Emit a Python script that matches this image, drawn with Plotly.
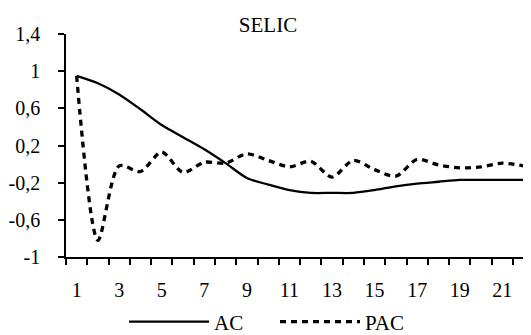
import plotly.graph_objects as go

lags = list(range(1, 23))
ac = [0.95, 0.87, 0.75, 0.59, 0.42, 0.29, 0.16, 0.01, -0.15, -0.22, -0.28, -0.31,
      -0.31, -0.31, -0.28, -0.24, -0.21, -0.19, -0.17, -0.17, -0.17, -0.17]
pac = [0.95, -0.82, -0.02, -0.08, 0.13, -0.09, 0.02, 0.01, 0.11, 0.04, -0.03, 0.03,
       -0.14, 0.04, -0.06, -0.13, 0.05, -0.01, -0.04, -0.03, 0.01, -0.02]
y_ticks = [-1, -0.6, -0.2, 0.2, 0.6, 1, 1.4]
y_labels = ["-1", "-0,6", "-0,2", "0,2", "0,6", "1", "1,4"]
x_ticks = [1, 3, 5, 7, 9, 11, 13, 15, 17, 19, 21]
x_labels = [str(v) for v in x_ticks]

FONT = "Liberation Serif"
# the page body has an 8px default margin, so the figure is sized to fit the window
W, H = 523, 327

fig = go.Figure()
fig.add_trace(go.Scatter(x=lags, y=ac, name="AC", mode="lines",
                         line=dict(color="black", width=2.3, shape="spline", smoothing=0.8)))
fig.add_trace(go.Scatter(x=lags, y=pac, name="PAC", mode="lines",
                         line=dict(color="black", width=3.3, dash="6px,5px",
                                   shape="spline", smoothing=0.8)))

fig.update_layout(
    width=W, height=H,
    margin=dict(l=58, r=0, t=26, b=78, autoexpand=False),
    paper_bgcolor="white", plot_bgcolor="white",
    font=dict(family=FONT, size=20, color="black"),
    title=dict(text="SELIC", x=260 / W, xref="container", xanchor="center",
               y=1 - 17 / H, yref="container", yanchor="middle",
               font=dict(family=FONT, size=21, color="black")),
    showlegend=True,
    legend=dict(orientation="h", x=267 / W, xref="container", xanchor="center",
                y=1 - 314 / H, yref="container", yanchor="middle",
                font=dict(family=FONT, size=21), itemwidth=80,
                entrywidth=56, entrywidthmode="pixels",
                tracegroupgap=0, bgcolor="rgba(0,0,0,0)"),
    xaxis=dict(range=[0.5, 22.35], showgrid=False, zeroline=False,
               showline=True, linecolor="black", linewidth=1.5,
               tickmode="array", tickvals=x_ticks, ticktext=x_labels, ticks="",
               ticklabelstandoff=14,
               minor=dict(tick0=0.5, dtick=1, ticks="outside", ticklen=6,
                          tickcolor="black", tickwidth=1.5, showgrid=False)),
    yaxis=dict(range=[-1, 1.4], showgrid=False, zeroline=False,
               showline=True, linecolor="black", linewidth=1.5,
               tickmode="array", tickvals=y_ticks, ticktext=y_labels,
               ticks="outside", ticklen=6, tickcolor="black", tickwidth=1.5,
               ticklabelstandoff=14),
)

fig.write_html("out.html")
